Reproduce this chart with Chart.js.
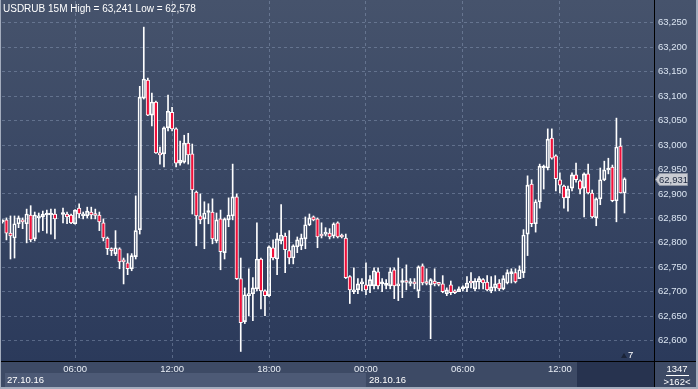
<!DOCTYPE html>
<html>
<head>
<meta charset="utf-8">
<script src="https://cdn.jsdelivr.net/npm/chart.js@4.4.0/dist/chart.umd.min.js"></script>
<style>
  html, body { margin: 0; padding: 0; background: #3d4a65; overflow: hidden; }
  canvas { display: block; }
</style>
</head>
<body>
<canvas id="grafica" width="698" height="389"></canvas>
<script>
const simbolo = 'USDRUB 15M';

// 15-minute candles, 27.10.16 01:30 -> 28.10.16 15:45 (index 90 = 00:00)
const opens = [
  62.843, 62.847, 62.820, 62.810, 62.839, 62.847, 62.839, 62.857, 62.808, 62.851,
  62.853, 62.857, 62.857, 62.859, null,   62.858, 62.859, 62.857, 62.839, 62.871,
  62.855, 62.855, 62.863, 62.857, 62.857, 62.841, 62.810, 62.785, 62.778, 62.788,
  62.763, 62.759, 62.747, 62.772, 62.827, 63.096, 63.133, 63.061, 63.088, 62.984,
  62.982, 63.035, 63.067, 63.033, 62.963, 62.965, 63.004, 62.982, 62.904, 62.855,
  62.849, 62.862, 62.863, 62.804, 62.849, 62.780, 62.847, 62.855, 62.894, 62.727,
  62.639, 62.692, 62.696, 62.706, 62.767, 62.702, 62.692, 62.790, 62.767, 62.804,
  62.814, 62.784, 62.769, 62.792, 62.794, 62.808, 62.837, 62.853, 62.849, 62.815,
  62.818, 62.820, 62.814, 62.841, 62.813, 62.810, 62.731, 62.700, 62.704, 62.716,
  62.714, 62.712, 62.712, 62.741, 62.716, 62.713, 62.712, 62.745, 62.712, 62.719,
  62.720, 62.717, 62.720, 62.702, 62.753, 62.718, 62.714, 62.722, 62.716, 62.716,
  62.696, 62.714, 62.702, 62.700, 62.706, 62.708, 62.722, 62.706, 62.720, 62.725,
  62.720, 62.702, 62.708, 62.718, 62.706, 62.718, 62.737, 62.739, 62.727, 62.739,
  62.818, 62.920, 62.839, 62.884, 62.953, 62.953, 63.014, 62.978, 62.929, 62.916,
  62.892, 62.912, 62.939, 62.927, 62.912, 62.941, 62.902, 62.851, 62.890, 62.929,
  62.949, 62.955, 62.886, 62.998, 62.902
];
const highs = [
  62.847, 62.851, 62.855, 62.855, 62.855, 62.851, 62.869, 62.876, 62.863, 62.861,
  62.865, 62.867, 62.869, 62.869, null,   62.871, 62.863, 62.859, 62.868, 62.880,
  62.863, 62.873, 62.873, 62.869, 62.863, 62.849, 62.812, 62.790, 62.825, 62.790,
  62.769, 62.778, 62.778, 62.896, 63.120, 63.241, 63.137, 63.106, 63.090, 62.996,
  63.037, 63.102, 63.077, 63.035, 63.008, 63.020, 63.024, 63.002, 62.906, 62.900,
  62.884, 62.880, 62.890, 62.861, 62.867, 62.851, 62.892, 62.961, 62.900, 62.769,
  62.708, 62.747, 62.729, 62.841, 62.769, 62.704, 62.794, 62.806, 62.820, 62.878,
  62.820, 62.825, 62.796, 62.812, 62.818, 62.853, 62.859, 62.855, 62.851, 62.841,
  62.831, 62.829, 62.841, 62.843, 62.818, 62.818, 62.733, 62.749, 62.727, 62.727,
  62.759, 62.733, 62.749, 62.749, 62.727, 62.725, 62.749, 62.749, 62.769, 62.747,
  62.755, 62.727, 62.727, 62.753, 62.757, 62.747, 62.727, 62.747, 62.718, 62.733,
  62.708, 62.722, 62.704, 62.710, 62.712, 62.731, 62.739, 62.727, 62.731, 62.727,
  62.733, 62.731, 62.733, 62.725, 62.733, 62.745, 62.747, 62.747, 62.753, 62.827,
  62.937, 62.929, 62.888, 62.961, 62.959, 63.033, 63.033, 62.980, 62.943, 62.918,
  62.916, 62.943, 62.963, 62.929, 62.943, 62.961, 62.908, 62.892, 62.953, 62.967,
  62.973, 62.959, 63.055, 63.014, 62.933
];
const lows = [
  62.840, 62.806, 62.767, 62.769, 62.831, 62.829, 62.800, 62.802, 62.804, 62.822,
  62.825, 62.820, 62.818, 62.808, null,   62.841, 62.839, 62.839, 62.838, 62.851,
  62.849, 62.851, 62.849, 62.849, 62.825, 62.804, 62.776, 62.774, 62.774, 62.747,
  62.716, 62.735, 62.743, 62.767, 62.818, 63.094, 63.060, 63.039, 62.983, 62.961,
  62.955, 63.029, 63.029, 62.955, 62.959, 62.963, 62.961, 62.859, 62.794, 62.839,
  62.788, 62.839, 62.798, 62.800, 62.745, 62.767, 62.833, 62.847, 62.725, 62.578,
  62.635, 62.651, 62.641, 62.702, 62.665, 62.651, 62.690, 62.765, 62.735, 62.798,
  62.739, 62.757, 62.757, 62.780, 62.786, 62.788, 62.835, 62.845, 62.790, 62.810,
  62.814, 62.808, 62.810, 62.810, 62.810, 62.727, 62.676, 62.696, 62.696, 62.702,
  62.694, 62.698, 62.706, 62.706, 62.700, 62.706, 62.706, 62.686, 62.682, 62.688,
  62.704, 62.712, 62.706, 62.688, 62.714, 62.714, 62.604, 62.712, 62.712, 62.698,
  62.692, 62.694, 62.696, 62.700, 62.702, 62.700, 62.708, 62.702, 62.706, 62.706,
  62.702, 62.698, 62.702, 62.702, 62.704, 62.716, 62.718, 62.718, 62.727, 62.729,
  62.774, 62.833, 62.822, 62.871, 62.910, 62.949, 62.971, 62.906, 62.902, 62.871,
  62.865, 62.906, 62.924, 62.900, 62.853, 62.900, 62.851, 62.835, 62.878, 62.927,
  62.941, 62.884, 62.843, 62.902, 62.861
];
const closes = [
  62.845, 62.820, 62.814, 62.839, 62.851, 62.843, 62.859, 62.806, 62.857, 62.855,
  62.859, 62.859, 62.860, 62.849, null,   62.859, 62.853, 62.841, 62.867, 62.859,
  62.859, 62.865, 62.857, 62.856, 62.843, 62.810, 62.788, 62.784, 62.790, 62.761,
  62.761, 62.747, 62.774, 62.825, 63.098, 63.135, 63.061, 63.088, 62.984, 62.980,
  63.035, 63.069, 63.033, 62.963, 62.969, 63.004, 62.980, 62.908, 62.855, 62.847,
  62.861, 62.863, 62.808, 62.847, 62.782, 62.849, 62.857, 62.894, 62.727, 62.637,
  62.694, 62.696, 62.708, 62.767, 62.702, 62.692, 62.792, 62.769, 62.808, 62.816,
  62.786, 62.769, 62.794, 62.806, 62.810, 62.837, 62.851, 62.847, 62.812, 62.814,
  62.822, 62.812, 62.839, 62.812, 62.812, 62.729, 62.704, 62.704, 62.716, 62.720,
  62.704, 62.725, 62.743, 62.712, 62.718, 62.714, 62.741, 62.712, 62.716, 62.720,
  62.719, 62.720, 62.716, 62.751, 62.718, 62.717, 62.725, 62.716, 62.715, 62.700,
  62.704, 62.698, 62.698, 62.706, 62.708, 62.718, 62.718, 62.722, 62.727, 62.718,
  62.704, 62.710, 62.716, 62.706, 62.727, 62.739, 62.739, 62.720, 62.745, 62.816,
  62.918, 62.839, 62.884, 62.957, 62.955, 63.012, 62.973, 62.931, 62.918, 62.892,
  62.910, 62.939, 62.929, 62.910, 62.941, 62.902, 62.853, 62.890, 62.929, 62.949,
  62.951, 62.886, 62.996, 62.902, 62.931
];

const yTicks = [62.60, 62.65, 62.70, 62.75, 62.80, 62.85, 62.90, 62.95, 63.00, 63.05, 63.10, 63.15, 63.20, 63.25];
const xTickIdx = [18, 42, 66, 90, 114, 138];
const xTickLabels = ['06:00', '12:00', '18:00', '00:00', '06:00', '12:00'];
const dateLabels = ['27.10.16', '28.10.16'];
const dateStartIdx = [0, 90];

const FONT = '"Liberation Sans", Arial, sans-serif';
const ROJO = '#f0103a';
const GRID = 'rgba(150, 166, 196, 0.42)';
const fmt = v => v.toFixed(3).replace('.', ',');

// bodies and wicks as floating bars
const cuerpos = [], mechasArriba = [], mechasAbajo = [], relleno = [];
opens.forEach((o, i) => {
  if (o === null) return;
  const c = closes[i];
  const arriba = Math.max(o, c), abajo = Math.min(o, c);
  cuerpos.push({ x: i, y: [o, c] });
  mechasArriba.push({ x: i, y: [arriba, highs[i]] });
  mechasAbajo.push({ x: i, y: [lows[i], abajo] });
  relleno.push(c < o ? ROJO : 'rgba(0,0,0,0)');
});

const maximo = Math.max(...highs.filter(v => v !== null));
const minimo = Math.min(...lows.filter(v => v !== null));
const ultimo = closes[closes.length - 1];

const fondo = {
  id: 'fondo',
  beforeDraw(chart) {
    const c = chart.ctx, a = chart.chartArea, W = chart.width, H = chart.height;
    c.save();
    c.fillStyle = '#3d4a65';
    c.fillRect(0, 0, W, H);
    const g = c.createLinearGradient(0, 0, 0, a.bottom);
    g.addColorStop(0, '#46536c');
    g.addColorStop(1, '#2b3a5b');
    c.fillStyle = g;
    c.fillRect(0, 0, W, a.bottom);
    // date band of first day
    const x = chart.scales.x;
    const corte = x.getPixelForValue(dateStartIdx[1]);
    c.fillStyle = '#4d5a76';
    c.fillRect(a.left + 3, a.bottom + 12, corte - a.left - 3, 14);
    c.fillStyle = '#27334f';
    c.fillRect(577, a.bottom + 1, a.right - 577, 26);
    c.restore();
  },
  afterDraw(chart) {
    const c = chart.ctx, a = chart.chartArea, W = chart.width, H = chart.height;
    const x = chart.scales.x, y = chart.scales.y;
    c.save();
    // separators
    c.strokeStyle = '#000000';
    c.lineWidth = 1;
    c.beginPath();
    c.moveTo(a.right + 0.5, 0); c.lineTo(a.right + 0.5, H);
    c.moveTo(0, a.bottom + 0.5); c.lineTo(W, a.bottom + 0.5);
    c.stroke();
    // outer frame
    c.fillStyle = '#a3acbd';
    c.fillRect(0, 0, 1, H);
    c.fillRect(W - 2, 0, 2, H);
    c.fillRect(0, H - 2, W, 2);

    // title
    c.fillStyle = '#ffffff';
    c.font = '10px ' + FONT;
    c.textBaseline = 'alphabetic';
    c.textAlign = 'left';
    c.fillText(simbolo + ' High = ' + fmt(maximo) + ' Low = ' + fmt(minimo), 3, 12);

    // dates
    c.font = '9.5px ' + FONT;
    c.textBaseline = 'middle';
    dateLabels.forEach((t, i) => {
      const px = i === 0 ? a.left + 5 : x.getPixelForValue(dateStartIdx[i]) + 3;
      c.fillText(t, px, a.bottom + 19.5);
    });

    // current price marker
    const py = Math.round(y.getPixelForValue(ultimo)) + 0.5;
    c.fillStyle = '#c9ccd3';
    c.strokeStyle = '#8f96a4';
    c.beginPath();
    c.moveTo(a.right + 1.5, py);
    c.lineTo(a.right + 5.5, py - 6);
    c.lineTo(a.right + 33.5, py - 6);
    c.lineTo(a.right + 33.5, py + 6);
    c.lineTo(a.right + 5.5, py + 6);
    c.closePath();
    c.fill();
    c.stroke();
    c.fillStyle = '#1d2940';
    c.font = '9.5px ' + FONT;
    c.fillText(fmt(ultimo), a.right + 5, py + 0.5);

    // bottom right counters
    c.fillStyle = '#ffffff';
    c.textAlign = 'center';
    c.fillText('1347', 677, a.bottom + 8);
    c.fillText('>162<', 677, a.bottom + 21);
    c.fillRect(666, a.bottom + 14, 23, 1);
    c.textAlign = 'left';
    c.fillText('7', 628, a.bottom - 6);
    c.fillStyle = '#1b2438';
    c.beginPath();
    c.moveTo(621, a.bottom - 3); c.lineTo(624, a.bottom - 8); c.lineTo(627, a.bottom - 3);
    c.closePath();
    c.fill();
    c.restore();
  }
};

const ctx = document.getElementById('grafica').getContext('2d');

new Chart(ctx, {
  type: 'bar',
  data: {
    datasets: [
      {
        data: cuerpos,
        backgroundColor: relleno,
        borderColor: '#ffffff',
        borderWidth: 1,
        borderSkipped: false,
        barThickness: 3.5,
        minBarLength: 2,
        grouped: false
      },
      {
        data: mechasArriba,
        backgroundColor: '#ffffff',
        borderWidth: 0,
        barThickness: 1,
        grouped: false
      },
      {
        data: mechasAbajo,
        backgroundColor: '#ffffff',
        borderWidth: 0,
        barThickness: 1,
        grouped: false
      }
    ]
  },
  options: {
    responsive: false,
    animation: false,
    devicePixelRatio: 1,
    layout: { padding: { left: 2, top: 1, right: 0, bottom: 0 } },
    plugins: { legend: { display: false }, tooltip: { enabled: false } },
    scales: {
      x: {
        type: 'linear',
        position: 'bottom',
        min: -0.1,
        max: 161.3,
        offset: false,
        bounds: 'data',
        grid: { color: GRID, drawTicks: false, offset: false },
        border: { display: false, dash: [3, 3] },
        afterBuildTicks: s => { s.ticks = xTickIdx.map(v => ({ value: v })); },
        afterFit: s => { s.height = 28; s.paddingLeft = 0; s.paddingRight = 0; },
        ticks: {
          color: '#e9eef6',
          font: { family: FONT, size: 9.5 },
          padding: 3,
          maxRotation: 0,
          autoSkip: false,
          callback: (v, i) => xTickLabels[i]
        }
      },
      y: {
        position: 'right',
        min: 62.5585,
        max: 63.2944,
        beginAtZero: false,
        bounds: 'data',
        grid: { color: GRID, drawTicks: false },
        border: { display: false, dash: [3, 3] },
        afterBuildTicks: s => { s.ticks = yTicks.map(v => ({ value: v })); },
        afterFit: s => { s.width = 44; s.paddingTop = 0; s.paddingBottom = 0; },
        ticks: {
          color: '#dbe5f2',
          font: { family: FONT, size: 9.5 },
          padding: 4,
          callback: v => fmt(v)
        }
      }
    }
  },
  plugins: [fondo]
});
</script>
</body>
</html>
